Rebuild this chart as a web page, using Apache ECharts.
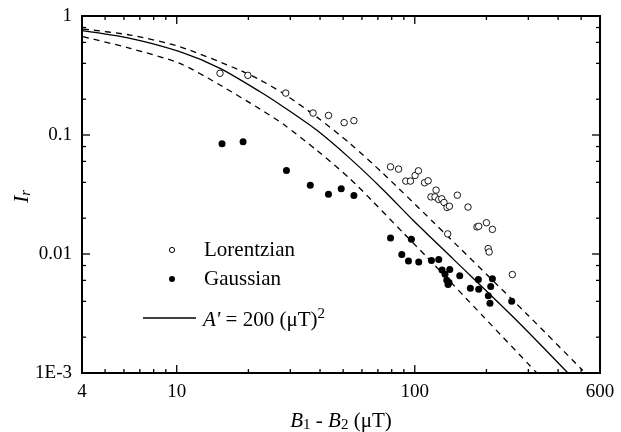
<!DOCTYPE html>
<html lang="en">
<head>
<meta charset="UTF-8">
<title>Relative intensity vs field difference</title>
<style>
  html, body { margin: 0; padding: 0; background: #fff; }
  #chart { width: 621px; height: 432px; }
</style>
<script src="https://cdn.jsdelivr.net/npm/echarts@6/dist/echarts.min.js"></script>
</head>
<body>
<div id="chart"></div>
<script>
var chart = echarts.init(document.getElementById('chart'));
var serif = "'Liberation Serif', 'Times New Roman', serif";

// measured points, B1 - B2 (uT) and I_r
var lorentzX = [15.2, 19.9, 28.7, 37.4, 43.4, 50.5, 55.5, 79.1, 85.5, 91.7, 95.9, 100.3, 103.6, 109.9, 113.8,
    117, 121.6, 122.9, 126.1, 129.8, 132.7, 136.6, 139.8, 151, 167.4, 137.5, 182.5, 185.6, 200, 211.9, 203.4, 205.3, 257];
var lorentzY = [0.330, 0.317, 0.225, 0.153, 0.146, 0.127, 0.132, 0.054, 0.0517, 0.0410, 0.0410, 0.0457, 0.050, 0.0397, 0.0412,
    0.0302, 0.0302, 0.0344, 0.0287, 0.0291, 0.0271, 0.0246, 0.0252, 0.0312, 0.0248, 0.01476, 0.0169, 0.0171, 0.0183, 0.0161, 0.0111, 0.0104, 0.00672];

var gaussX = [15.5, 19.0, 28.9, 36.4, 43.4, 49.1, 55.5, 79.1, 96.8, 88.2, 94.1, 103.9, 117.5, 126.1, 130.2,
    134, 140.3, 136.3, 139.3, 138, 154.5, 171.2, 185, 185.6, 211.9, 208.5, 203.7, 207, 255.4];
var gaussY = [0.0843, 0.0877, 0.0504, 0.0379, 0.0318, 0.0353, 0.0310, 0.01365, 0.0133, 0.0099, 0.00875, 0.00858, 0.0088, 0.0090, 0.00735,
    0.00676, 0.00741, 0.00602, 0.00576, 0.00554, 0.00655, 0.00516, 0.0061, 0.00506, 0.00618, 0.00533, 0.00445, 0.00386, 0.0040];

// curves
var fitX = [4, 6.37, 10.3, 15.2, 22.4, 28.0, 38.7, 53.4, 73.6, 98.4, 144.8, 263, 440];
var fitY = [0.752, 0.649, 0.501, 0.363, 0.231, 0.173, 0.110, 0.0636, 0.0347, 0.0192, 0.0091, 0.00287, 0.001];
var upperX = [4.04, 6.37, 10.3, 18.4, 22.4, 28.0, 38.7, 53.4, 73.6, 119.4, 299, 508];
var upperY = [0.777, 0.692, 0.552, 0.351, 0.290, 0.224, 0.142, 0.0850, 0.0475, 0.0186, 0.00306, 0.00105];
var lowerX = [4.04, 6.37, 10.3, 15.2, 22.4, 28.0, 38.7, 53.4, 66.8, 89.3, 112, 193.5, 326];
var lowerY = [0.670, 0.535, 0.400, 0.263, 0.165, 0.1235, 0.0746, 0.0430, 0.0275, 0.0151, 0.0095, 0.0030, 0.001];

// axes and ticks
var xMin = 4, xMax = 600, yMin = 0.001, yMax = 1;
var xLabels = [4, 10, 100, 600];
var xMajor = [10, 100];
var xMinor = [5, 6, 7, 8, 9, 20, 30, 40, 50, 60, 70, 80, 90, 200, 300, 400, 500];
var yLabels = [0.001, 0.01, 0.1, 1];
var yMajor = [0.01, 0.1];
var yMinor = [0.002, 0.004, 0.006, 0.008, 0.02, 0.04, 0.06, 0.08, 0.2, 0.4, 0.6, 0.8];

function pairs(xs, ys) {
    return xs.map(function (x, i) { return [x, ys[i]]; });
}

// inward tick marks as thin rect symbols sitting on the box edges
function ticks(values, side, len) {
    var horiz = side === 'left' || side === 'right';
    var data = values.map(function (v) {
        if (side === 'bottom') return [v, yMin];
        if (side === 'top') return [v, yMax];
        if (side === 'left') return [xMin, v];
        return [xMax, v];
    });
    var off = { bottom: [0, -len / 2], top: [0, len / 2], left: [len / 2, 0], right: [-len / 2, 0] }[side];
    return {
        type: 'scatter', data: data, silent: true, clip: false, z: 5,
        symbol: 'rect', symbolSize: horiz ? [len, 1.3] : [1.3, len], symbolOffset: off,
        itemStyle: { color: '#000', opacity: 1 }
    };
}

var option = {
    animation: false,
    backgroundColor: '#fff',
    grid: {
        left: 82, right: 21, top: 16, bottom: 59, containLabel: false, outerBoundsMode: 'none',
        show: true, borderColor: '#000', borderWidth: 2
    },
    xAxis: {
        type: 'log', logBase: 10, min: xMin, max: xMax,
        axisLine: { onZero: false, lineStyle: { color: '#000', width: 2 } },
        axisTick: { show: false },
        axisLabel: { customValues: xLabels, fontFamily: serif, fontSize: 19, color: '#000', margin: 10 },
        splitLine: { show: false },
        name: '{i|B}{s|1} - {i|B}{s|2} (\u03bcT)',
        nameLocation: 'middle',
        nameGap: 36,
        nameMoveOverlap: false,
        nameTextStyle: {
            fontFamily: serif, fontSize: 21, color: '#000',
            rich: {
                i: { fontFamily: serif, fontSize: 21, fontStyle: 'italic', color: '#000' },
                s: { fontFamily: serif, fontSize: 15, color: '#000', verticalAlign: 'bottom', padding: [9, 0, 0, 0] }
            }
        }
    },
    yAxis: {
        type: 'log', logBase: 10, min: yMin, max: yMax,
        axisLine: { onZero: false, lineStyle: { color: '#000', width: 2 } },
        axisTick: { show: false },
        axisLabel: {
            customValues: yLabels, fontFamily: serif, fontSize: 19, color: '#000', margin: 10,
            formatter: function (v) { return v < 0.005 ? '1E-3' : String(+v.toPrecision(6)); }
        },
        splitLine: { show: false },
        name: '{i|I}{s|r}',
        nameLocation: 'middle',
        nameGap: 48,
        nameMoveOverlap: false,
        nameTextStyle: {
            padding: [0, 4, 0, 0],
            rich: {
                i: { fontFamily: serif, fontSize: 22, fontStyle: 'italic', color: '#000' },
                s: { fontFamily: serif, fontSize: 15, fontStyle: 'italic', color: '#000', verticalAlign: 'bottom', padding: [8, 0, 0, 0] }
            }
        }
    },
    graphic: [
        { type: 'circle', shape: { cx: 172, cy: 250, r: 2.6 }, style: { fill: '#fff', stroke: '#000', lineWidth: 1 } },
        { type: 'circle', shape: { cx: 172, cy: 279, r: 3 }, style: { fill: '#000' } },
        { type: 'line', shape: { x1: 143, y1: 318, x2: 196, y2: 318 }, style: { stroke: '#000', lineWidth: 1.3 } },
        { type: 'text', x: 204, y: 250, style: { text: 'Lorentzian', font: '21px ' + serif, fill: '#000', verticalAlign: 'middle' } },
        { type: 'text', x: 204, y: 279, style: { text: 'Gaussian', font: '21px ' + serif, fill: '#000', verticalAlign: 'middle' } },
        {
            type: 'text', x: 203, y: 320,
            style: {
                text: "{i|A'} = 200 (\u03bcT){sup|2}", font: '21px ' + serif, fill: '#000', verticalAlign: 'middle',
                rich: {
                    i: { font: 'italic 21px ' + serif, fill: '#000' },
                    sup: { font: '15px ' + serif, fill: '#000', verticalAlign: 'top', padding: [0, 0, 12, 0] }
                }
            }
        }
    ],
    series: [
        {
            name: 'upper', type: 'line', data: pairs(upperX, upperY), symbol: 'none', smooth: 0.25,
            lineStyle: { color: '#000', width: 1.3, type: [6, 5] }, z: 2
        },
        {
            name: 'lower', type: 'line', data: pairs(lowerX, lowerY), symbol: 'none', smooth: 0.25,
            lineStyle: { color: '#000', width: 1.3, type: [6, 5] }, z: 2
        },
        {
            name: "A' = 200 (\u03bcT)^2", type: 'line', data: pairs(fitX, fitY), symbol: 'none', smooth: 0.25,
            lineStyle: { color: '#000', width: 1.3 }, z: 2
        },
        {
            name: 'Lorentzian', type: 'scatter', data: pairs(lorentzX, lorentzY),
            symbol: 'circle', symbolSize: 6.5,
            itemStyle: { color: '#fff', borderColor: '#000', borderWidth: 0.9, opacity: 1 }, z: 3
        },
        {
            name: 'Gaussian', type: 'scatter', data: pairs(gaussX, gaussY),
            symbol: 'circle', symbolSize: 7,
            itemStyle: { color: '#000', opacity: 1 }, z: 3
        },
        ticks(xMajor, 'bottom', 8), ticks(xMinor, 'bottom', 4),
        ticks(xMajor, 'top', 8), ticks(xMinor, 'top', 4),
        ticks(yMajor, 'left', 8), ticks(yMinor, 'left', 4),
        ticks(yMajor, 'right', 8), ticks(yMinor, 'right', 4)
    ]
};
chart.setOption(option);
</script>
</body>
</html>
